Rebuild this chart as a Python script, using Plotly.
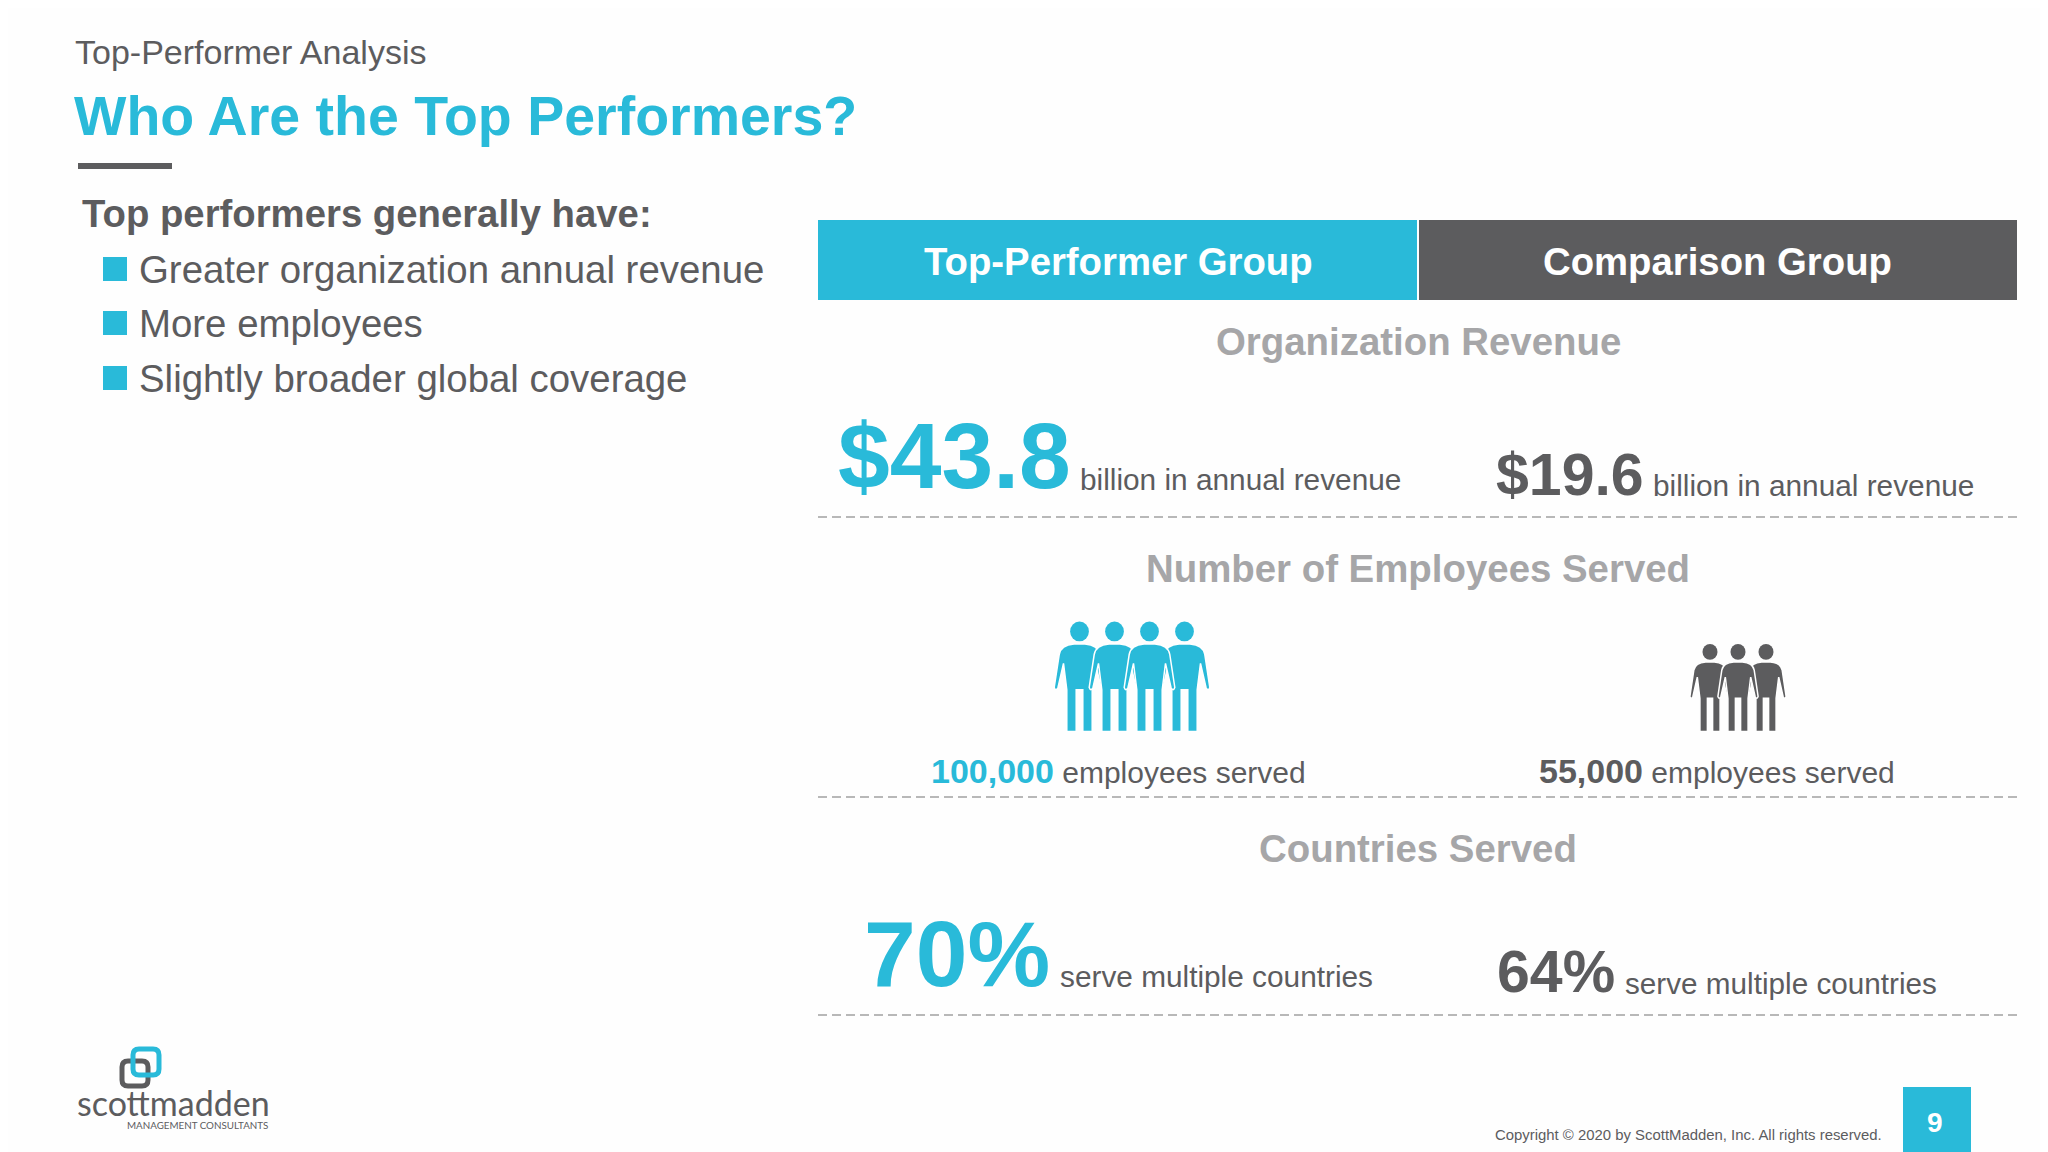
import plotly.graph_objects as go

CYAN = "#29BAD9"
GREY = "#5C5C5E"
LIGHT = "#A6A6A8"
FONT = "Liberation Sans"

# Content
section_titles = ["Organization Revenue", "Number of Employees Served", "Countries Served"]
group_names = ["Top-Performer Group", "Comparison Group"]
bullets = ["Greater organization annual revenue", "More employees", "Slightly broader global coverage"]
revenue_values = ["$43.8", "$19.6"]
employee_values = ["100,000", "55,000"]
employee_icons = [4, 3]
country_values = ["70%", "64%"]

W, H = 2048, 1152
PAGE_INSET = 8  # the page body keeps its default margin
shapes = []
annotations = []


def text(x, y, s, size, color=GREY, bold=False, anchor="left", family=FONT):
    annotations.append(dict(
        x=x, y=y, xref="x", yref="y", text=f"<b>{s}</b>" if bold else s, showarrow=False,
        xanchor=anchor, yanchor="middle", align=anchor,
        font=dict(family=family, size=size, color=color),
    ))


def rect(x0, y0, x1, y1, color):
    shapes.append(dict(type="rect", x0=x0, y0=y0, x1=x1, y1=y1, fillcolor=color, line_width=0, layer="above"))


def dashed(y):
    shapes.append(dict(type="line", x0=818, x1=2017, y0=y, y1=y, layer="above",
                       line=dict(color="#B8B8B8", width=2, dash="9px,5px")))


def rounded(x0, y0, x1, y1, r, color):
    p = (f"M{x0+r},{y0} L{x1-r},{y0} Q{x1},{y0} {x1},{y0+r} L{x1},{y1-r} Q{x1},{y1} {x1-r},{y1} "
         f"L{x0+r},{y1} Q{x0},{y1} {x0},{y1-r} L{x0},{y0+r} Q{x0},{y0} {x0+r},{y0} Z")
    shapes.append(dict(type="path", path=p, line=dict(color=color, width=5), layer="above"))


def person(cx, top, h, color):
    # outline in units of the figure height, x measured from the centre
    body = [("M", -.05, .205), ("Q", -.17, .215, -.185, .30), ("L", -.23, .6), ("Q", -.215, .64, -.195, .6),
            ("L", -.145, .38), ("L", -.115, .62), ("L", -.115, 1), ("L", -.03, 1), ("L", -.03, .62),
            ("L", .03, .62), ("L", .03, 1), ("L", .115, 1), ("L", .115, .62), ("L", .145, .38),
            ("L", .195, .6), ("Q", .215, .64, .23, .6), ("L", .185, .30), ("Q", .17, .215, .05, .205)]
    parts = []
    for seg in body:
        pts = [f"{cx + seg[i] * h:.1f},{top + seg[i + 1] * h:.1f}" for i in range(1, len(seg), 2)]
        parts.append(seg[0] + " ".join(pts))
    shapes.append(dict(type="path", path=" ".join(parts) + " Z", fillcolor=color,
                       line=dict(color="white", width=1.5), layer="above"))
    r = .09 * h
    shapes.append(dict(type="circle", x0=cx - r * .95, x1=cx + r * .95, y0=top, y1=top + 2 * r,
                       fillcolor=color, line_width=0, layer="above"))


def people(cx, top, h, step, n, color):
    offs = [(i - (n - 1) / 2) * step for i in range(n)]
    # outer figures first so the middle ones sit on top
    for off in sorted(offs, key=lambda o: -abs(o)):
        person(cx + off, top, h, color)


# Heading block
text(73, 52, "Top-Performer Analysis", 34)
text(72, 116, "Who Are the Top Performers?", 55.5, CYAN, bold=True)
rect(78, 163, 172, 169, GREY)

text(80, 213, "Top performers generally have:", 38.3, bold=True)
for y, b in zip([269, 323, 378], bullets):
    rect(103, y - 12, 127, y + 12, CYAN)
    text(137, y, b, 38.4)

# Column headers
rect(818, 220, 1417, 300, CYAN)
rect(1419, 220, 2017, 300, GREY)
text(1118, 261, group_names[0], 38.3, "white", True, "center")
text(1717, 261, group_names[1], 38.3, "white", True, "center")

# Section headings and dividers
for y, s in zip([341, 568, 848], section_titles):
    text(1418, y, s, 38.4, LIGHT, True, "center")
for y in [517, 797, 1015]:
    dashed(y)

# Revenue
text(836, 456, revenue_values[0], 93, CYAN, True)
text(1078, 479, "billion in annual revenue", 29.8)
text(1494, 475, revenue_values[1], 59, GREY, True)
text(1651, 485, "billion in annual revenue", 29.8)

# Employees
people(1132, 621.5, 110, 35, employee_icons[0], CYAN)
people(1738, 644, 87.5, 28, employee_icons[1], GREY)
text(1118, 771, f'<span style="color:{CYAN};font-size:34px"><b>{employee_values[0]}</b></span> employees served', 30, anchor="center")
text(1717, 771, f'<span style="font-size:34px"><b>{employee_values[1]}</b></span> employees served', 30, anchor="center")

# Countries
text(862, 954, country_values[0], 93, CYAN, True)
text(1058, 976, "serve multiple countries", 29.8)
text(1495, 972, country_values[1], 59, GREY, True)
text(1623, 983, "serve multiple countries", 29.7)

# Footer
rounded(122, 1061, 148, 1086, 6, GREY)
rounded(133, 1049, 159, 1075, 6, CYAN)
text(75, 1102, "scottmadden", 34, GREY, family="Lato")
text(125, 1125, "MANAGEMENT CONSULTANTS", 9.8, GREY, family="Lato")
text(1493, 1135, "Copyright © 2020 by ScottMadden, Inc. All rights reserved.", 14.9)
rect(1903, 1087, 1971, 1152, CYAN)
text(1935, 1122, "9", 28, "white", True, "center")

fig = go.Figure()
fig.update_layout(
    width=W, height=H, margin=dict(l=0, r=0, t=0, b=0),
    paper_bgcolor="#FEFEFE", plot_bgcolor="#FEFEFE", showlegend=False,
    shapes=shapes, annotations=annotations,
    xaxis=dict(range=[PAGE_INSET, W + PAGE_INSET], visible=False, fixedrange=True),
    yaxis=dict(range=[H + PAGE_INSET, PAGE_INSET], visible=False, fixedrange=True),
)

fig.write_html("out.html")
